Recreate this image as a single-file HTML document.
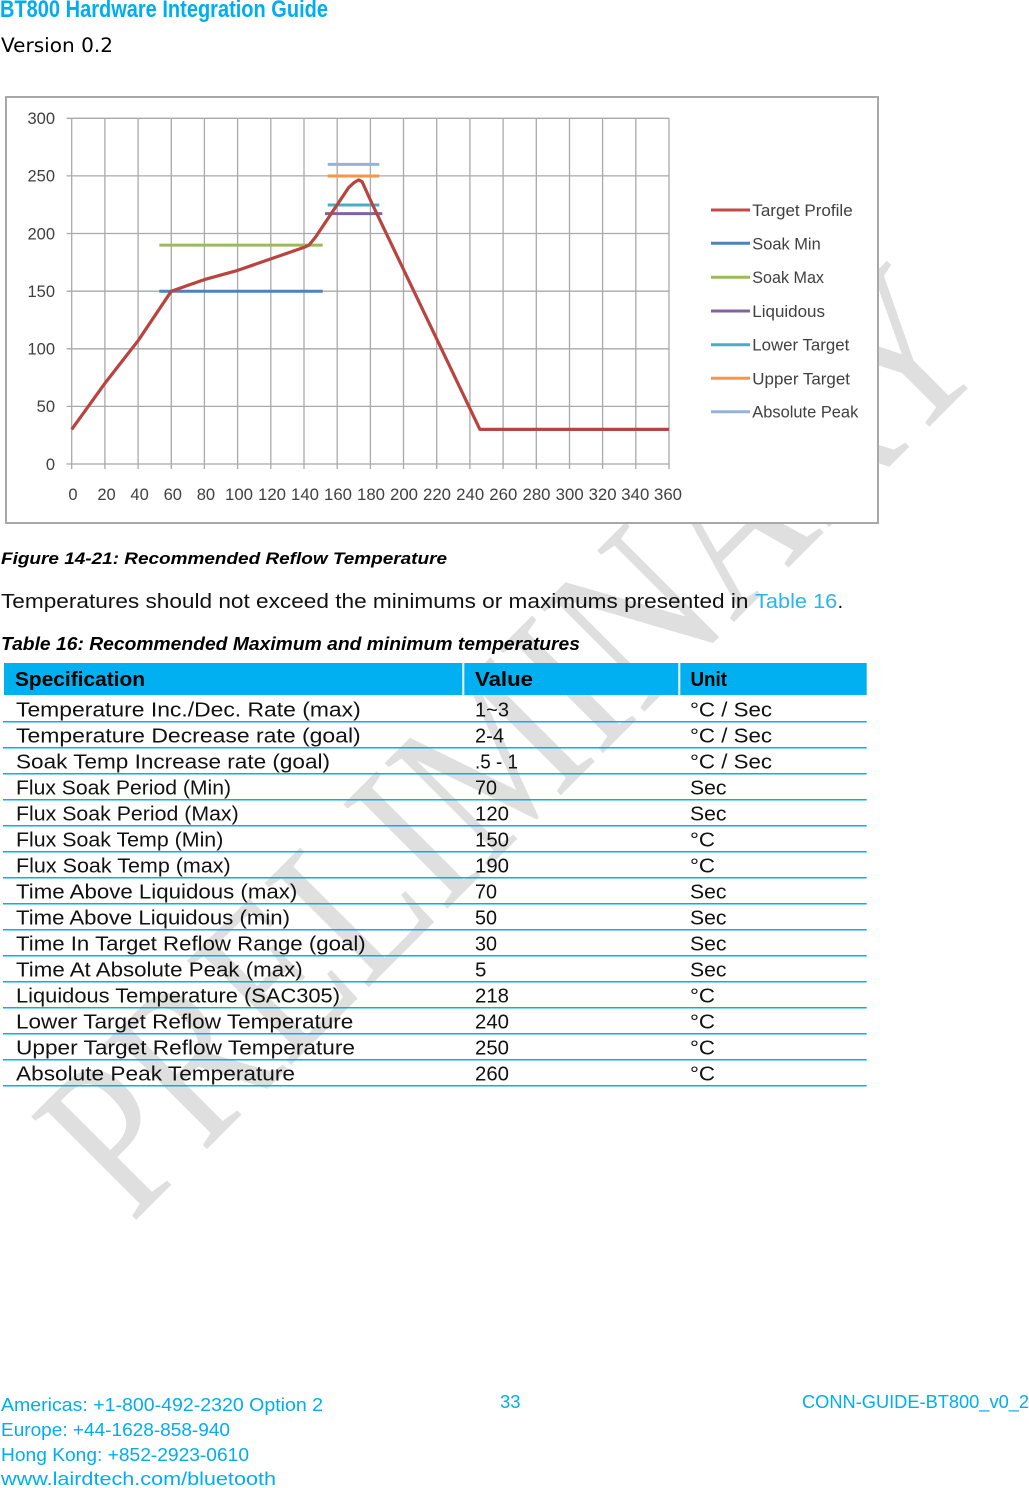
<!DOCTYPE html>
<html>
<head>
<meta charset="utf-8">
<style>
html,body{margin:0;padding:0;background:#fff;}
svg{display:block;}
</style>
</head>
<body>
<svg xmlns="http://www.w3.org/2000/svg" width="1029" height="1488" viewBox="0 0 1029 1488">
<rect x="0" y="0" width="1029" height="1488" fill="#fff"/>

<!-- Watermark -->
<g transform="translate(510,740) rotate(-45)">
  <text x="-610" y="75" font-family="'Liberation Serif',serif" font-size="225" fill="#dfdfdf" textLength="1220" lengthAdjust="spacingAndGlyphs">PRELIMINARY</text>
</g>

<!-- Header -->
<text x="0" y="17" font-family="'Liberation Sans Narrow','Liberation Sans',sans-serif" font-weight="bold" font-size="24" fill="#00aeef" textLength="328" lengthAdjust="spacingAndGlyphs">BT800 Hardware Integration Guide</text>
<text x="1" y="52" font-family="'DejaVu Sans','Liberation Sans',sans-serif" font-size="19.5" fill="#000" textLength="112" lengthAdjust="spacingAndGlyphs">Version 0.2</text>

<!-- Chart box -->
<rect x="6" y="97" width="872" height="426" fill="#fff" stroke="#a8a8a8" stroke-width="2"/>

<!-- Gridlines -->
<g stroke="#a9a9a9" stroke-width="1.3" fill="none">
  <line x1="66.5" y1="118.3" x2="669" y2="118.3"/>
  <line x1="66.5" y1="175.9" x2="669" y2="175.9"/>
  <line x1="66.5" y1="233.5" x2="669" y2="233.5"/>
  <line x1="66.5" y1="291.2" x2="669" y2="291.2"/>
  <line x1="66.5" y1="348.8" x2="669" y2="348.8"/>
  <line x1="66.5" y1="406.4" x2="669" y2="406.4"/>
  <line x1="66.5" y1="464" x2="669" y2="464"/>
  <line x1="71.7" y1="118.3" x2="71.7" y2="469"/>
  <line x1="104.9" y1="118.3" x2="104.9" y2="469"/>
  <line x1="138.1" y1="118.3" x2="138.1" y2="469"/>
  <line x1="171.3" y1="118.3" x2="171.3" y2="469"/>
  <line x1="204.4" y1="118.3" x2="204.4" y2="469"/>
  <line x1="237.6" y1="118.3" x2="237.6" y2="469"/>
  <line x1="270.8" y1="118.3" x2="270.8" y2="469"/>
  <line x1="304.0" y1="118.3" x2="304.0" y2="469"/>
  <line x1="337.2" y1="118.3" x2="337.2" y2="469"/>
  <line x1="370.4" y1="118.3" x2="370.4" y2="469"/>
  <line x1="403.5" y1="118.3" x2="403.5" y2="469"/>
  <line x1="436.7" y1="118.3" x2="436.7" y2="469"/>
  <line x1="469.9" y1="118.3" x2="469.9" y2="469"/>
  <line x1="503.1" y1="118.3" x2="503.1" y2="469"/>
  <line x1="536.3" y1="118.3" x2="536.3" y2="469"/>
  <line x1="569.5" y1="118.3" x2="569.5" y2="469"/>
  <line x1="602.6" y1="118.3" x2="602.6" y2="469"/>
  <line x1="635.8" y1="118.3" x2="635.8" y2="469"/>
  <line x1="669.0" y1="118.3" x2="669.0" y2="469"/>
</g>

<!-- Y labels -->
<g font-family="'Liberation Sans',sans-serif" font-size="16.5" fill="#404040" text-anchor="end">
  <text x="55" y="124.1">300</text>
  <text x="55" y="181.7">250</text>
  <text x="55" y="239.3">200</text>
  <text x="55" y="297.0">150</text>
  <text x="55" y="354.6">100</text>
  <text x="55" y="412.2">50</text>
  <text x="55" y="469.8">0</text>
</g>

<!-- X labels -->
<g font-family="'Liberation Sans',sans-serif" font-size="16.5" fill="#404040" text-anchor="middle">
  <text x="73" y="500">0</text>
  <text x="106.5" y="500">20</text>
  <text x="139.6" y="500">40</text>
  <text x="172.8" y="500">60</text>
  <text x="205.9" y="500">80</text>
  <text x="239" y="500" textLength="28" lengthAdjust="spacingAndGlyphs">100</text>
  <text x="272" y="500" textLength="28" lengthAdjust="spacingAndGlyphs">120</text>
  <text x="305" y="500" textLength="28" lengthAdjust="spacingAndGlyphs">140</text>
  <text x="338" y="500" textLength="28" lengthAdjust="spacingAndGlyphs">160</text>
  <text x="371" y="500" textLength="28" lengthAdjust="spacingAndGlyphs">180</text>
  <text x="404" y="500" textLength="28" lengthAdjust="spacingAndGlyphs">200</text>
  <text x="437" y="500" textLength="28" lengthAdjust="spacingAndGlyphs">220</text>
  <text x="470.2" y="500" textLength="28" lengthAdjust="spacingAndGlyphs">240</text>
  <text x="503.3" y="500" textLength="28" lengthAdjust="spacingAndGlyphs">260</text>
  <text x="536.5" y="500" textLength="28" lengthAdjust="spacingAndGlyphs">280</text>
  <text x="569.7" y="500" textLength="28" lengthAdjust="spacingAndGlyphs">300</text>
  <text x="602.6" y="500" textLength="28" lengthAdjust="spacingAndGlyphs">320</text>
  <text x="635.3" y="500" textLength="28" lengthAdjust="spacingAndGlyphs">340</text>
  <text x="668" y="500" textLength="28" lengthAdjust="spacingAndGlyphs">360</text>
</g>

<!-- Series -->
<g stroke-width="3" stroke-linecap="butt" fill="none">
  <line x1="159.3" y1="291.2" x2="322.7" y2="291.2" stroke="#4f81bd"/>
  <line x1="159.3" y1="245.1" x2="322.7" y2="245.1" stroke="#9bbb59"/>
  <line x1="327.7" y1="164.4" x2="379.3" y2="164.4" stroke="#95b3d7"/>
  <line x1="327.7" y1="176.0" x2="379.3" y2="176.0" stroke="#f79646"/>
  <line x1="327.7" y1="205.0" x2="379.3" y2="205.0" stroke="#4bacc6"/>
  <line x1="325.0" y1="213.6" x2="382.3" y2="213.6" stroke="#8064a2"/>
  <polyline stroke="#b9443f" stroke-width="3.2" stroke-linejoin="round" points="71.7,429.4 104.9,383.3 138.1,340.7 171.3,291.2 187.8,285.4 204.4,279.6 237.6,270.4 270.8,258.9 304.0,247.4 309.0,245.1 315.6,237.0 337.2,204.7 348.8,187.4 353.8,182.8 358.7,179.9 362.1,181.7 370.4,200.1 380.3,220.9 479.9,429.4 669,429.4"/>
</g>

<!-- Legend -->
<g stroke-width="3" fill="none">
  <line x1="711" y1="210" x2="750" y2="210" stroke="#be4b48"/>
  <line x1="711" y1="243.3" x2="750" y2="243.3" stroke="#4f81bd"/>
  <line x1="711" y1="277.2" x2="750" y2="277.2" stroke="#9bbb59"/>
  <line x1="711" y1="311" x2="750" y2="311" stroke="#8064a2"/>
  <line x1="711" y1="344.7" x2="750" y2="344.7" stroke="#4bacc6"/>
  <line x1="711" y1="378.3" x2="750" y2="378.3" stroke="#f79646"/>
  <line x1="711" y1="411.7" x2="750" y2="411.7" stroke="#95b3d7"/>
</g>
<g font-family="'Liberation Sans',sans-serif" font-size="16.5" fill="#404040">
  <text x="752.3" y="216" textLength="100.4" lengthAdjust="spacingAndGlyphs">Target Profile</text>
  <text x="752.3" y="249.3" textLength="68.4" lengthAdjust="spacingAndGlyphs">Soak Min</text>
  <text x="752.3" y="283.2" textLength="71.7" lengthAdjust="spacingAndGlyphs">Soak Max</text>
  <text x="752.3" y="317" textLength="72.7" lengthAdjust="spacingAndGlyphs">Liquidous</text>
  <text x="752.3" y="350.7" textLength="97" lengthAdjust="spacingAndGlyphs">Lower Target</text>
  <text x="752.3" y="384.3" textLength="97.7" lengthAdjust="spacingAndGlyphs">Upper Target</text>
  <text x="752.3" y="417.7" textLength="106" lengthAdjust="spacingAndGlyphs">Absolute Peak</text>
</g>

<!-- Captions -->
<text x="1" y="564" font-family="'Liberation Sans',sans-serif" font-weight="bold" font-style="italic" font-size="17" fill="#000" textLength="446" lengthAdjust="spacingAndGlyphs">Figure 14-21: Recommended Reflow Temperature</text>
<text x="1" y="608" font-family="'Liberation Sans',sans-serif" font-size="20.5" fill="#111" textLength="747.5" lengthAdjust="spacingAndGlyphs">Temperatures should not exceed the minimums or maximums presented in</text>
<text x="755" y="608" font-family="'Liberation Sans',sans-serif" font-size="20.5" fill="#29b5ec" textLength="82.3" lengthAdjust="spacingAndGlyphs">Table 16</text>
<text x="837.5" y="608" font-family="'Liberation Sans',sans-serif" font-size="20.5" fill="#111">.</text>
<text x="1" y="650" font-family="'Liberation Sans',sans-serif" font-weight="bold" font-style="italic" font-size="18" fill="#000" textLength="579" lengthAdjust="spacingAndGlyphs">Table 16: Recommended Maximum and minimum temperatures</text>

<!-- Table header -->
<rect x="4" y="663" width="862.7" height="32" fill="#00b0f0"/>
<rect x="462.3" y="663" width="2" height="32" fill="#fff"/>
<rect x="678.3" y="663" width="2" height="32" fill="#fff"/>
<g font-family="'Liberation Sans',sans-serif" font-weight="bold" font-size="20" fill="#000">
  <text x="15" y="686" textLength="130" lengthAdjust="spacingAndGlyphs">Specification</text>
  <text x="475" y="686" textLength="58" lengthAdjust="spacingAndGlyphs">Value</text>
  <text x="690.5" y="686" textLength="36.5" lengthAdjust="spacingAndGlyphs">Unit</text>
</g>

<!-- Row lines -->
<g stroke="#00b0f0" stroke-width="1.5">
  <line x1="3" y1="721.7" x2="866.7" y2="721.7"/>
  <line x1="3" y1="747.7" x2="866.7" y2="747.7"/>
  <line x1="3" y1="773.7" x2="866.7" y2="773.7"/>
  <line x1="3" y1="799.7" x2="866.7" y2="799.7"/>
  <line x1="3" y1="825.7" x2="866.7" y2="825.7"/>
  <line x1="3" y1="851.7" x2="866.7" y2="851.7"/>
  <line x1="3" y1="877.7" x2="866.7" y2="877.7"/>
  <line x1="3" y1="903.7" x2="866.7" y2="903.7"/>
  <line x1="3" y1="929.7" x2="866.7" y2="929.7"/>
  <line x1="3" y1="955.7" x2="866.7" y2="955.7"/>
  <line x1="3" y1="981.7" x2="866.7" y2="981.7"/>
  <line x1="3" y1="1007.7" x2="866.7" y2="1007.7"/>
  <line x1="3" y1="1033.7" x2="866.7" y2="1033.7"/>
  <line x1="3" y1="1059.7" x2="866.7" y2="1059.7"/>
  <line x1="3" y1="1085.7" x2="866.7" y2="1085.7"/>
</g>

<!-- Table rows -->
<g font-family="'Liberation Sans',sans-serif" font-size="20.5" fill="#111">
  <text x="16" y="716.7" textLength="344.7" lengthAdjust="spacingAndGlyphs">Temperature Inc./Dec. Rate (max)</text>
  <text x="16" y="742.7" textLength="344.7" lengthAdjust="spacingAndGlyphs">Temperature Decrease rate (goal)</text>
  <text x="16" y="768.7" textLength="314" lengthAdjust="spacingAndGlyphs">Soak Temp Increase rate (goal)</text>
  <text x="16" y="794.7" textLength="215" lengthAdjust="spacingAndGlyphs">Flux Soak Period (Min)</text>
  <text x="16" y="820.7" textLength="222.7" lengthAdjust="spacingAndGlyphs">Flux Soak Period (Max)</text>
  <text x="16" y="846.7" textLength="207.3" lengthAdjust="spacingAndGlyphs">Flux Soak Temp (Min)</text>
  <text x="16" y="872.7" textLength="214.7" lengthAdjust="spacingAndGlyphs">Flux Soak Temp (max)</text>
  <text x="16" y="898.7" textLength="281.3" lengthAdjust="spacingAndGlyphs">Time Above Liquidous (max)</text>
  <text x="16" y="924.7" textLength="274" lengthAdjust="spacingAndGlyphs">Time Above Liquidous (min)</text>
  <text x="16" y="950.7" textLength="349.7" lengthAdjust="spacingAndGlyphs">Time In Target Reflow Range (goal)</text>
  <text x="16" y="976.7" textLength="286.7" lengthAdjust="spacingAndGlyphs">Time At Absolute Peak (max)</text>
  <text x="16" y="1002.7" textLength="324" lengthAdjust="spacingAndGlyphs">Liquidous Temperature (SAC305)</text>
  <text x="16" y="1028.7" textLength="337.3" lengthAdjust="spacingAndGlyphs">Lower Target Reflow Temperature</text>
  <text x="16" y="1054.7" textLength="339" lengthAdjust="spacingAndGlyphs">Upper Target Reflow Temperature</text>
  <text x="16" y="1080.7" textLength="279" lengthAdjust="spacingAndGlyphs">Absolute Peak Temperature</text>

  <text x="475" y="716.7" textLength="34" lengthAdjust="spacingAndGlyphs">1~3</text>
  <text x="475" y="742.7" textLength="29" lengthAdjust="spacingAndGlyphs">2-4</text>
  <text x="475" y="768.7" textLength="43" lengthAdjust="spacingAndGlyphs">.5 - 1</text>
  <text x="475" y="794.7" textLength="22" lengthAdjust="spacingAndGlyphs">70</text>
  <text x="475" y="820.7" textLength="34" lengthAdjust="spacingAndGlyphs">120</text>
  <text x="475" y="846.7" textLength="34" lengthAdjust="spacingAndGlyphs">150</text>
  <text x="475" y="872.7" textLength="34" lengthAdjust="spacingAndGlyphs">190</text>
  <text x="475" y="898.7" textLength="22" lengthAdjust="spacingAndGlyphs">70</text>
  <text x="475" y="924.7" textLength="22" lengthAdjust="spacingAndGlyphs">50</text>
  <text x="475" y="950.7" textLength="22" lengthAdjust="spacingAndGlyphs">30</text>
  <text x="475" y="976.7">5</text>
  <text x="475" y="1002.7" textLength="34" lengthAdjust="spacingAndGlyphs">218</text>
  <text x="475" y="1028.7" textLength="34" lengthAdjust="spacingAndGlyphs">240</text>
  <text x="475" y="1054.7" textLength="34" lengthAdjust="spacingAndGlyphs">250</text>
  <text x="475" y="1080.7" textLength="34" lengthAdjust="spacingAndGlyphs">260</text>

  <text x="690" y="716.7" textLength="82" lengthAdjust="spacingAndGlyphs">°C / Sec</text>
  <text x="690" y="742.7" textLength="82" lengthAdjust="spacingAndGlyphs">°C / Sec</text>
  <text x="690" y="768.7" textLength="82" lengthAdjust="spacingAndGlyphs">°C / Sec</text>
  <text x="690" y="794.7" textLength="36.5" lengthAdjust="spacingAndGlyphs">Sec</text>
  <text x="690" y="820.7" textLength="36.5" lengthAdjust="spacingAndGlyphs">Sec</text>
  <text x="690" y="846.7" textLength="25" lengthAdjust="spacingAndGlyphs">°C</text>
  <text x="690" y="872.7" textLength="25" lengthAdjust="spacingAndGlyphs">°C</text>
  <text x="690" y="898.7" textLength="36.5" lengthAdjust="spacingAndGlyphs">Sec</text>
  <text x="690" y="924.7" textLength="36.5" lengthAdjust="spacingAndGlyphs">Sec</text>
  <text x="690" y="950.7" textLength="36.5" lengthAdjust="spacingAndGlyphs">Sec</text>
  <text x="690" y="976.7" textLength="36.5" lengthAdjust="spacingAndGlyphs">Sec</text>
  <text x="690" y="1002.7" textLength="25" lengthAdjust="spacingAndGlyphs">°C</text>
  <text x="690" y="1028.7" textLength="25" lengthAdjust="spacingAndGlyphs">°C</text>
  <text x="690" y="1054.7" textLength="25" lengthAdjust="spacingAndGlyphs">°C</text>
  <text x="690" y="1080.7" textLength="25" lengthAdjust="spacingAndGlyphs">°C</text>
</g>

<!-- Footer -->
<g font-family="'Liberation Sans',sans-serif" font-size="18" fill="#00aeef">
  <text x="1" y="1411" textLength="322" lengthAdjust="spacingAndGlyphs">Americas: +1-800-492-2320 Option 2</text>
  <text x="1" y="1436" textLength="229" lengthAdjust="spacingAndGlyphs">Europe: +44-1628-858-940</text>
  <text x="1" y="1461" textLength="248" lengthAdjust="spacingAndGlyphs">Hong Kong: +852-2923-0610</text>
  <text x="1" y="1485" textLength="275" lengthAdjust="spacingAndGlyphs">www.lairdtech.com/bluetooth</text>
  <text x="500" y="1408" textLength="20.5" lengthAdjust="spacingAndGlyphs">33</text>
  <text x="802" y="1408" textLength="227" lengthAdjust="spacingAndGlyphs">CONN-GUIDE-BT800_v0_2</text>
</g>
</svg>
</body>
</html>
